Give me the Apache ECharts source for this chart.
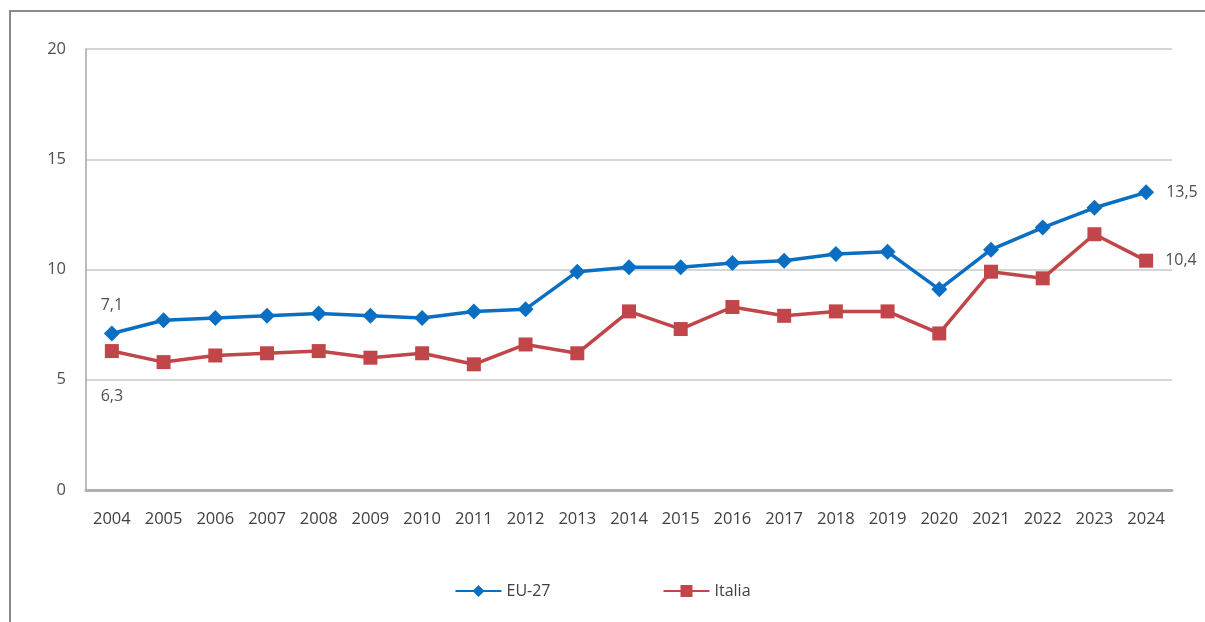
<!DOCTYPE html>
<html><head><meta charset="utf-8">
<script src="https://cdn.jsdelivr.net/npm/echarts@6/dist/echarts.min.js"></script>
<style>html,body{margin:0;padding:0;background:#fff}#c{width:1205px;height:622px}</style>
</head><body><div id="c"></div>
<script>
const years = ['2004','2005','2006','2007','2008','2009','2010','2011','2012','2013','2014','2015','2016','2017','2018','2019','2020','2021','2022','2023','2024'];
const eu27 = [7.1,7.7,7.8,7.9,8.0,7.9,7.8,8.1,8.2,9.9,10.1,10.1,10.3,10.4,10.7,10.8,9.1,10.9,11.9,12.8,13.5];
const italia = [6.3,5.8,6.1,6.2,6.3,6.0,6.2,5.7,6.6,6.2,8.1,7.3,8.3,7.9,8.1,8.1,7.1,9.9,9.6,11.6,10.4];
const yTicks = [0,5,10,15,20];

const FONT = 'Open Sans';
const fmt = v => String(v.toFixed(1)).replace('.', ',');
function withLabels(arr, firstPos, firstDist) {
  return arr.map((v, i) => {
    if (i === 0) return {value: v, label: {show: true, position: firstPos, distance: firstDist}};
    if (i === arr.length - 1) return {value: v, label: {show: true, position: 'right', distance: 12}};
    return v;
  });
}
const chart = echarts.init(document.getElementById('c'), null, {renderer: 'canvas'});
chart.setOption({
  animation: false,
  textStyle: {fontFamily: FONT},
  graphic: [{
    type: 'polyline', silent: true,
    shape: {points: [[10, 640], [10, 11], [1210, 11]]},
    style: {stroke: '#8a8a8a', lineWidth: 2, fill: null}
  }],
  grid: {left: 86, top: 49, right: 33, bottom: 132, containLabel: false},
  xAxis: {
    type: 'category', data: years, boundaryGap: true,
    axisLine: {lineStyle: {color: '#b0b0b0', width: 3}},
    axisTick: {show: false},
    axisLabel: {color: '#404040', fontSize: 16.5, margin: 21, interval: 0, fontFamily: FONT}
  },
  yAxis: {
    type: 'value', min: yTicks[0], max: yTicks[yTicks.length - 1], interval: 5,
    axisLine: {show: true, lineStyle: {color: '#a6a6a6', width: 1.5}},
    axisTick: {show: false},
    splitLine: {lineStyle: {color: '#c8c8c8', width: 1.5}},
    axisLabel: {color: '#505050', fontSize: 16.5, margin: 20, fontFamily: FONT}
  },
  legend: {
    bottom: 18, left: 'center', itemGap: 112, itemWidth: 46, itemHeight: 15,
    textStyle: {color: '#404040', fontSize: 16, fontFamily: FONT},
    data: ['EU-27', 'Italia']
  },
  series: [
    {
      name: 'EU-27', type: 'line', data: withLabels(eu27, 'top', 12),
      symbol: 'diamond', symbolSize: 16,
      lineStyle: {color: '#0a6fc2', width: 3.5},
      itemStyle: {color: '#0a6fc2'},
      label: {color: '#505050', fontSize: 16, fontFamily: FONT, formatter: p => fmt(p.value)},
      z: 3
    },
    {
      name: 'Italia', type: 'line', data: withLabels(italia, 'bottom', 30),
      symbol: 'rect', symbolSize: 14,
      lineStyle: {color: '#c0464a', width: 3.5},
      itemStyle: {color: '#c0464a'},
      label: {color: '#505050', fontSize: 16, fontFamily: FONT, formatter: p => fmt(p.value)},
      z: 2
    }
  ]
});
</script></body></html>
